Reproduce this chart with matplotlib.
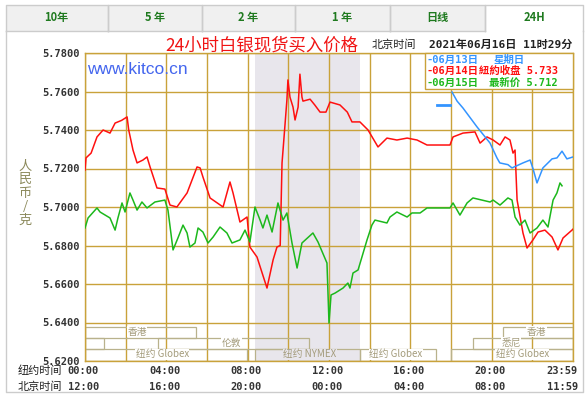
import matplotlib
matplotlib.use('Agg')
import matplotlib.pyplot as plt
from matplotlib.patches import Rectangle
from matplotlib.lines import Line2D
import matplotlib.transforms as mtransforms

plt.rcParams['font.family'] = ['Noto Sans CJK SC', 'DejaVu Sans']

# ---------------- data ----------------
tabs = ['10年', '5 年', '2 年', '1 年', '日线', '24H']
yticks = [5.62, 5.64, 5.66, 5.68, 5.70, 5.72, 5.74, 5.76, 5.78]
ny_times = ['00:00', '04:00', '08:00', '12:00', '16:00', '20:00', '23:59']
bj_times = ['12:00', '16:00', '20:00', '00:00', '04:00', '08:00', '11:59']
tick_hours = [0, 4, 8, 12, 16, 20, 24]

# 06-14 (red), hours of NY time vs price
red_h = [0, 0.05, 0.3, 0.59, 0.89, 1.23, 1.48, 1.8, 2.07, 2.15, 2.36, 2.56, 2.85, 3.05, 3.20,
         3.54, 3.93, 4.18, 4.52, 5.02, 5.51, 5.66, 5.80, 6.15, 6.79, 7.13, 7.28, 7.62, 7.97,
         8.11, 8.46, 8.95, 9.25, 9.44, 9.6, 9.69, 9.74, 9.93, 9.98, 10.08, 10.23, 10.33, 10.48,
         10.57, 10.67, 10.72, 11.07, 11.3, 11.56, 11.85, 12.05, 12.54, 12.9, 13.13, 13.52, 13.92,
         14.41, 14.85, 15.34, 15.84, 16.33, 16.82, 17.95, 18.10, 18.59, 19.18, 19.43, 19.77,
         20.07, 20.41, 20.66, 20.90, 21.05, 21.15, 21.25, 21.54, 21.74, 22.03, 22.28, 22.62,
         22.97, 23.26, 23.51, 23.95, 24.0]
red_p = [5.7192, 5.7255, 5.7280, 5.7364, 5.7400, 5.7384, 5.7436, 5.7450, 5.7468, 5.7400, 5.7296,
         5.7229, 5.7244, 5.7260, 5.7208, 5.7099, 5.7093, 5.7010, 5.7000, 5.7073, 5.7208, 5.7203,
         5.7156, 5.7047, 5.7000, 5.7130, 5.7073, 5.6922, 5.6948, 5.6792, 5.6740, 5.6579, 5.6725,
         5.6792, 5.6800, 5.7229, 5.7296, 5.7556, 5.7660, 5.7571, 5.7519, 5.7452, 5.7519, 5.7690,
         5.7571, 5.7550, 5.7560, 5.7530, 5.7493, 5.7493, 5.7545, 5.7530, 5.7493, 5.7442, 5.7442,
         5.7400, 5.7312, 5.7358, 5.7348, 5.7358, 5.7348, 5.7322, 5.7322, 5.7364, 5.7384, 5.7390,
         5.7332, 5.7364, 5.7348, 5.7322, 5.7364, 5.7348, 5.7280, 5.7296, 5.7037, 5.6865, 5.6787,
         5.6829, 5.6870, 5.6880, 5.6844, 5.6777, 5.6839, 5.6880, 5.6885]

# 06-15 (green)
green_h = [0, 0.15, 0.59, 0.74, 1.23, 1.48, 1.62, 1.82, 1.97, 2.21, 2.36, 2.56, 2.80, 3.05, 3.44,
           3.93, 4.08, 4.33, 4.57, 4.82, 5.02, 5.16, 5.41, 5.56, 5.80, 6.05, 6.30, 6.64, 6.98,
           7.23, 7.62, 7.87, 8.11, 8.36, 8.61, 8.75, 8.95, 9.20, 9.49, 9.74, 9.93, 10.18, 10.43,
           10.67, 11.21, 11.46, 11.90, 12.00, 12.10, 12.30, 12.69, 12.93, 13.03, 13.18, 13.43,
           13.87, 14.11, 14.26, 14.85, 15.00, 15.34, 15.84, 16.08, 16.48, 16.82, 17.95, 18.10,
           18.44, 18.79, 19.08, 19.52, 19.92, 20.07, 20.41, 20.80, 21.00, 21.15, 21.39, 21.64,
           21.89, 22.23, 22.52, 22.77, 23.02, 23.21, 23.36, 23.46]
green_p = [5.6891, 5.6943, 5.6995, 5.6974, 5.6943, 5.6880, 5.6943, 5.7021, 5.6974, 5.7073, 5.7036,
           5.6984, 5.7026, 5.6995, 5.7026, 5.7036, 5.6984, 5.6777, 5.6839, 5.6906, 5.6865, 5.6792,
           5.6813, 5.6891, 5.6870, 5.6813, 5.6844, 5.6896, 5.6865, 5.6813, 5.6829, 5.6880, 5.6818,
           5.7000, 5.6932, 5.6891, 5.6958, 5.6870, 5.7021, 5.6932, 5.6969, 5.6813, 5.6683, 5.6813,
           5.6865, 5.6818, 5.6709, 5.6397, 5.6543, 5.6553, 5.6579, 5.6605, 5.6579, 5.6657, 5.6673,
           5.6829, 5.6906, 5.6932, 5.6917, 5.6948, 5.6974, 5.6948, 5.6969, 5.6969, 5.6995, 5.6995,
           5.7021, 5.6958, 5.7021, 5.7047, 5.7036, 5.7026, 5.7036, 5.7010, 5.7047, 5.7036, 5.6948,
           5.6906, 5.6932, 5.6865, 5.6891, 5.6932, 5.6896, 5.7036, 5.7073, 5.7125, 5.7110]

# 06-13 (blue)
blue_dash_h = [17.31, 17.95]
blue_dash_p = [5.7530, 5.7530]
blue_h = [18.05, 18.3, 18.59, 19.28, 19.92, 20.26, 20.4, 20.8, 21.00, 21.54, 21.89, 22.03, 22.23,
          22.52, 22.97, 23.21, 23.46, 23.70, 24.0]
blue_p = [5.7597, 5.7550, 5.7514, 5.7416, 5.7332, 5.7255, 5.7229, 5.7220, 5.7203, 5.7229, 5.7244,
          5.7200, 5.7125, 5.7203, 5.7250, 5.7255, 5.7290, 5.7250, 5.7260]

# trading sessions: (row, start hour, end hour, label, label hour)
sessions = [
    (0, 0.0, 5.46, '香港', 2.56),
    (0, 20.56, 24.0, '香港', 22.2),
    (1, 0.0, 0.93, '', None),
    (1, 3.6, 11.0, '伦敦', 7.2),
    (1, 19.08, 24.0, '悉尼', 20.95),
    (2, 0.0, 7.97, '纽约 Globex', 3.8),
    (2, 8.36, 13.52, '纽约 NYMEX', 11.07),
    (2, 13.52, 17.27, '纽约 Globex', 15.3),
    (2, 18.0, 24.0, '纽约 Globex', 21.5),
]
nymex_span = (8.36, 13.52)

# ---------------- figure ----------------
W, H = 586, 396
fig = plt.figure(figsize=(W / 100, H / 100), dpi=100)
fig.patch.set_facecolor('white')


def fx(x):
    return x / W


def fy(y):
    return 1 - y / H


border = '#cccccc'
tab_edges = [5.6, 107.6, 201.8, 295, 390, 485, 583]
for i, t in enumerate(tabs):
    x0, x1 = tab_edges[i], tab_edges[i + 1]
    sel = (i == len(tabs) - 1)
    fig.add_artist(Rectangle((fx(x0), fy(30.6)), fx(x1 - x0), (30.6 - 4.5) / H,
                             transform=fig.transFigure, facecolor='white' if sel else '#f0f0f0',
                             edgecolor='none', zorder=1))
    # left/top/right edges
    fig.add_artist(Line2D([fx(x0), fx(x0), fx(x1), fx(x1)], [fy(30.6), fy(4.5), fy(4.5), fy(30.6)],
                          transform=fig.transFigure, color=border, lw=1.0, zorder=2))
    if not sel:
        fig.add_artist(Line2D([fx(x0), fx(x1)], [fy(30.6), fy(30.6)],
                              transform=fig.transFigure, color=border, lw=1.0, zorder=2))
    fig.text(fx((x0 + x1) / 2), fy(17.5), t, ha='center', va='center', fontsize=8,
             fontweight='bold', color='#1f7a1f', zorder=3)

# panel border
fig.add_artist(Line2D([fx(5.6), fx(5.6), fx(583), fx(583)], [fy(30.6), fy(392), fy(392), fy(30.6)],
                      transform=fig.transFigure, color=border, lw=1.0, zorder=2))

ax = fig.add_axes([fx(85), fy(361), (573 - 85) / W, (361 - 53) / H])
ax.set_xlim(0, 24)
ax.set_ylim(5.62, 5.78)
ax.set_facecolor('white')

gc = '#c9a23a'
ax.axvspan(*nymex_span, color='#e8e6ec', zorder=0, lw=0)
for h in range(0, 25, 2):
    ax.axvline(h, color=gc, lw=1.0, zorder=1)
for v in yticks:
    ax.axhline(v, color=gc, lw=1.0, zorder=1)
for s in ax.spines.values():
    s.set_color(gc)
    s.set_linewidth(1.0)

ax.set_xticks([])
ax.set_yticks(yticks)
ax.set_yticklabels([f'{v:.4f}' for v in yticks], fontfamily='DejaVu Sans Mono',
                   fontweight='bold', fontsize=7.5, color='#333333')
ax.tick_params(axis='y', length=0, pad=4)

# session boxes
row_bounds = [(5.6320, 5.6377), (5.6262, 5.6320), (5.6200, 5.6262)]
for row, s, e, lab, lh in sessions:
    y0, y1 = row_bounds[row]
    ax.add_patch(Rectangle((s, y0), e - s, y1 - y0, fill=False, edgecolor='#b9b28c', lw=0.9, zorder=2))
    if lab:
        bg = '#e8e6ec' if nymex_span[0] <= lh <= nymex_span[1] else 'white'
        ax.text(lh, (y0 + y1) / 2 + 0.0004, lab, ha='center', va='center', fontsize=7,
                color='#a49c7c', zorder=3,
                bbox=dict(facecolor=bg, edgecolor='none', pad=0.3))

# series
ax.plot(red_h, red_p, color='#ff1010', lw=1.1, zorder=4)
ax.plot(green_h, green_p, color='#1cb81c', lw=1.1, zorder=4)
ax.plot(blue_h, blue_p, color='#3394ff', lw=1.1, zorder=5)
ax.plot(blue_dash_h, blue_dash_p, color='#3394ff', lw=2.0, zorder=5)

# legend box
lx0 = (425 - 85) / 488
ly0 = 1 - (89 - 53) / 308
ax.add_patch(Rectangle((lx0, ly0), 1 - lx0, 1 - ly0, transform=ax.transAxes, facecolor='white',
                       edgecolor=gc, lw=1.0, zorder=6, clip_on=False))

mono = ['DejaVu Sans Mono', 'Noto Sans CJK SC']
leg_rows = [('-06月13日', '星期日', '#3394ff', 494, 'left'),
            ('-06月14日', '紐約收盘 5.733', '#ff1010', 558, 'right'),
            ('-06月15日', '最新价 5.712', '#1cb81c', 558, 'right')]
for i, (d, info, c, xi, al) in enumerate(leg_rows):
    yy = 60 + i * 11.3
    fig.text(fx(426), fy(yy), d, ha='left', va='center', fontsize=7.5, family=mono,
             fontweight='bold', color=c, zorder=7)
    fig.text(fx(xi), fy(yy), info, ha=al, va='center', fontsize=7.5, family=mono,
             fontweight='bold', color=c, zorder=7)

# title and timestamp
fig.text(fx(262), fy(45), '24小时白银现货买入价格', ha='center', va='center', fontsize=12.5,
         color='#f01414')
fig.text(fx(372), fy(45), '北京时间', ha='left', va='center', fontsize=8, color='#222222')
fig.text(fx(572), fy(45), '2021年06月16日 11时29分', ha='right', va='center', fontsize=8,
         family=mono, fontweight='bold', color='#222222')

# watermark
fig.text(fx(87), fy(69), 'www.kitco.cn', ha='left', va='center', fontsize=12.5,
         family='Liberation Sans', color='#4466ee')

# y label
fig.text(fx(25), fy(193), '人\n民\n币\n/\n克', ha='center', va='center', fontsize=9.5,
         color='#8c8a5c', linespacing=1.05)

# x labels
trans = mtransforms.blended_transform_factory(ax.transData, fig.transFigure)
fig.text(fx(18), fy(371), '纽约时间', ha='left', va='center', fontsize=8, color='#222222')
fig.text(fx(18), fy(387), '北京时间', ha='left', va='center', fontsize=8, color='#222222')
for i, (h, a, b) in enumerate(zip(tick_hours, ny_times, bj_times)):
    ha = 'right' if i == len(tick_hours) - 1 else 'center'
    off = 0.25 if ha == 'right' else -0.08
    ax.text(h + off, fy(371), a, transform=trans, ha=ha, va='center', fontsize=7.5,
            family='DejaVu Sans Mono', fontweight='bold', color='#333333', clip_on=False)
    ax.text(h + off, fy(387), b, transform=trans, ha=ha, va='center', fontsize=7.5,
            family='DejaVu Sans Mono', fontweight='bold', color='#333333', clip_on=False)

fig.savefig('out.png', dpi=100, facecolor='white')
